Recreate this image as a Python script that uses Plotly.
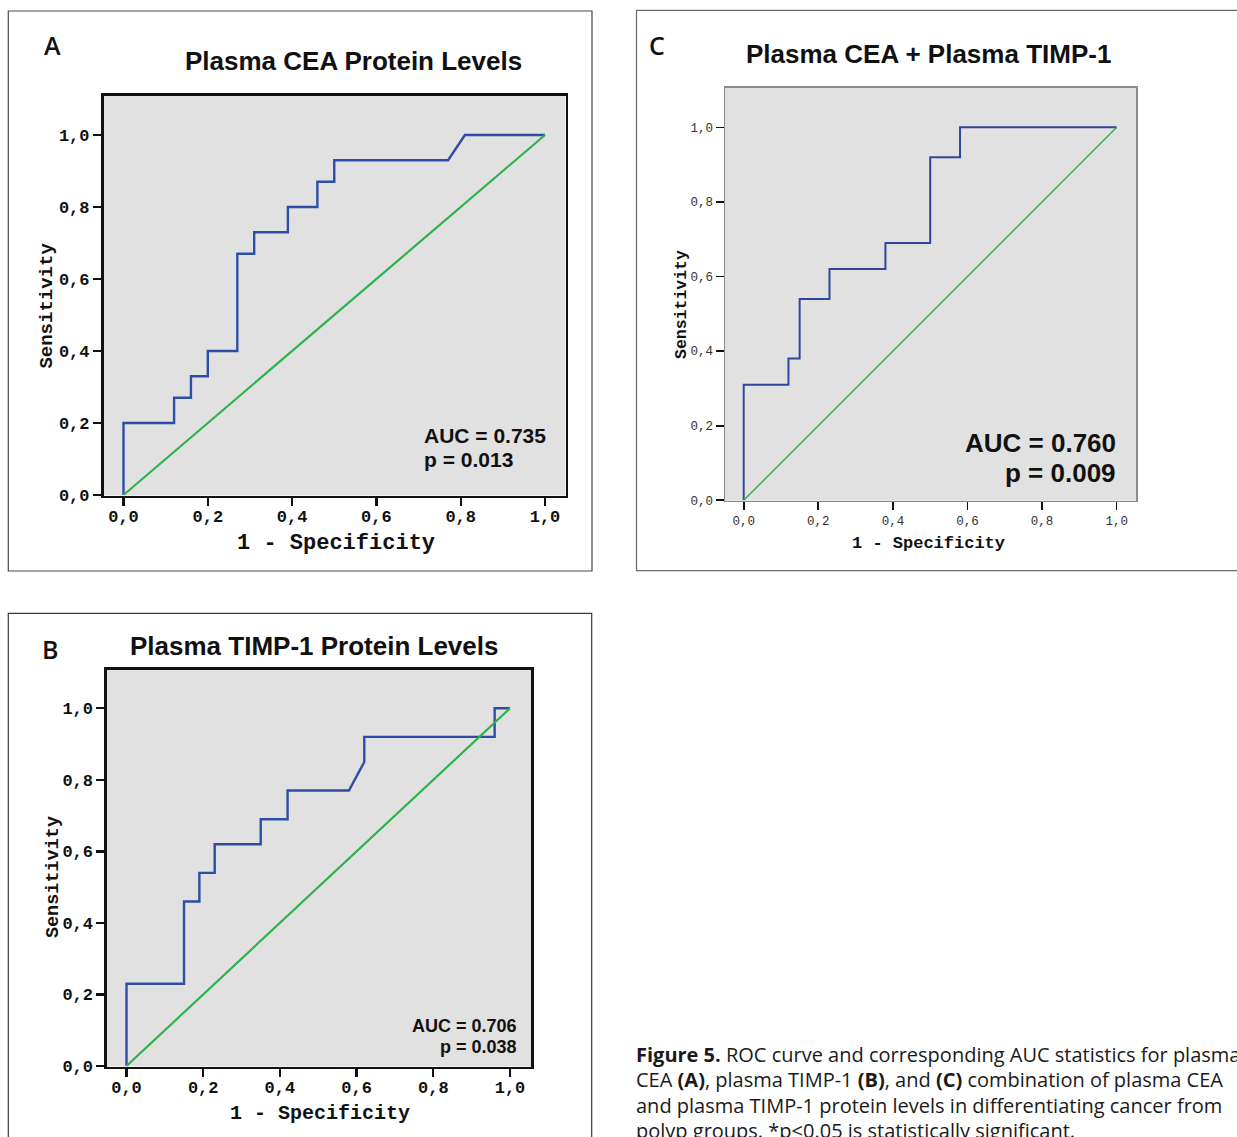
import plotly.graph_objects as go

W, H = 1237, 1137

# ---------------- data ----------------
tick_vals = [0.0, 0.2, 0.4, 0.6, 0.8, 1.0]
tick_text = ["0,0", "0,2", "0,4", "0,6", "0,8", "1,0"]

# Panel A: plasma CEA
cea_fpr = [0.00, 0.00, 0.12, 0.12, 0.16, 0.16, 0.20, 0.20, 0.27, 0.27, 0.31,
           0.31, 0.39, 0.39, 0.46, 0.46, 0.50, 0.50, 0.77, 0.81, 1.00]
cea_tpr = [0.00, 0.20, 0.20, 0.27, 0.27, 0.33, 0.33, 0.40, 0.40, 0.67, 0.67,
           0.73, 0.73, 0.80, 0.80, 0.87, 0.87, 0.93, 0.93, 1.00, 1.00]

# Panel B: plasma TIMP-1
timp_fpr = [0.00, 0.00, 0.15, 0.15, 0.19, 0.19, 0.23, 0.23, 0.35, 0.35, 0.42,
            0.42, 0.58, 0.62, 0.62, 0.96, 0.96, 1.00]
timp_tpr = [0.00, 0.23, 0.23, 0.46, 0.46, 0.54, 0.54, 0.62, 0.62, 0.69, 0.69,
            0.77, 0.77, 0.85, 0.92, 0.92, 1.00, 1.00]

# Panel C: combination
comb_fpr = [0.00, 0.00, 0.12, 0.12, 0.15, 0.15, 0.23, 0.23, 0.38, 0.38, 0.50,
            0.50, 0.58, 0.58, 1.00]
comb_tpr = [0.00, 0.31, 0.31, 0.38, 0.38, 0.54, 0.54, 0.62, 0.62, 0.69, 0.69,
            0.92, 0.92, 1.00, 1.00]

ref_x = [0.0, 1.0]
ref_y = [0.0, 1.0]

panel_letters = ["A", "B", "C"]
panel_titles = ["Plasma CEA Protein Levels", "Plasma TIMP-1 Protein Levels",
                "Plasma CEA + Plasma TIMP-1"]
auc_labels = ["AUC = 0.735", "AUC = 0.706", "AUC = 0.760"]
p_labels = ["p = 0.013", "p = 0.038", "p = 0.009"]
x_title = "1 - Specificity"
y_title = "Sensitivity"

caption_lines = [
    "<b>Figure 5.</b> ROC curve and corresponding AUC statistics for plasma",
    "CEA <b>(A)</b>, plasma TIMP-1 <b>(B)</b>, and <b>(C)</b> combination of plasma CEA",
    "and plasma TIMP-1 protein levels in differentiating cancer from",
    "polyp groups. *p&lt;0.05 is statistically significant.",
]

# ---------------- layout helpers (pixel geometry) ----------------
def fx(p):
    return p / W


def fy(p):
    return 1 - p / H


# left, right, top, bottom of plot area; pixel of x=0, px per unit; pixel of y=0, px per unit
geo = {
    "A": dict(l=103.5, r=565.5, t=95.5, b=495.5, x0=123.5, xu=421.5, y0=495.0, yu=360.0),
    "B": dict(l=107.0, r=531.0, t=669.5, b=1066.5, x0=126.5, xu=383.5, y0=1066.0, yu=357.7),
    "C": dict(l=725.0, r=1136.0, t=87.5, b=500.8, x0=743.7, xu=373.0, y0=500.3, yu=373.0),
}

BLUE_AB = "#2d4ea4"
BLUE_C = "#31469a"
GREEN = "#2eb34b"
BG = "#e1e1e1"

fig = go.Figure()

series = {
    "A": (cea_fpr, cea_tpr),
    "B": (timp_fpr, timp_tpr),
    "C": (comb_fpr, comb_tpr),
}
axis_ids = {"A": ("x", "y"), "B": ("x2", "y2"), "C": ("x3", "y3")}

for key in ["A", "B", "C"]:
    xa, ya = axis_ids[key]
    fpr, tpr = series[key]
    fig.add_trace(go.Scatter(
        x=fpr, y=tpr, mode="lines", xaxis=xa, yaxis=ya,
        line=dict(color=BLUE_C if key == "C" else BLUE_AB,
                  width=2.0 if key == "C" else 2.4),
        showlegend=False, hoverinfo="skip", cliponaxis=False))
    fig.add_trace(go.Scatter(
        x=ref_x, y=ref_y, mode="lines", xaxis=xa, yaxis=ya,
        line=dict(color=GREEN, width=1.4 if key == "C" else 2.2),
        showlegend=False, hoverinfo="skip", cliponaxis=False))

layout_axes = {}
for key, (xa, ya) in axis_ids.items():
    g = geo[key]
    xr = [(g["l"] - g["x0"]) / g["xu"], (g["r"] - g["x0"]) / g["xu"]]
    yr = [(g["y0"] - g["b"]) / g["yu"], (g["y0"] - g["t"]) / g["yu"]]
    if key == "C":
        lc, lw, tw, xtl, ytl = "#8c8c8c", 1.5, 1.6, 8, 8
        tf = dict(family="Liberation Mono", size=12.5, color="#333333")
        xso = 0
    else:
        lc, lw, tw, xtl, ytl = "#111111", 2.6, 2.4, 8, 8
        tf = dict(family="Liberation Mono", size=17, color="#111111", weight="bold")
        xso = -5
    common = dict(showgrid=False, zeroline=False, showline=True, mirror=True,
                  linecolor=lc, linewidth=lw, ticks="outside", tickcolor="#111111",
                  tickwidth=tw, tickvals=tick_vals, ticktext=tick_text,
                  tickfont=tf, fixedrange=True, automargin=False)
    xname = "xaxis" if xa == "x" else "xaxis" + xa[1:]
    yname = "yaxis" if ya == "y" else "yaxis" + ya[1:]
    layout_axes[xname] = dict(domain=[fx(g["l"]), fx(g["r"])], range=xr, anchor=ya,
                              ticklen=xtl, ticklabelstandoff=xso, **common)
    layout_axes[yname] = dict(domain=[fy(g["b"]), fy(g["t"])], range=yr, anchor=xa,
                              ticklen=ytl, **common)

fig.update_layout(
    width=W, height=H, autosize=False,
    margin=dict(l=0, r=0, t=0, b=0, pad=0, autoexpand=False),
    paper_bgcolor="white", plot_bgcolor=BG,
    **layout_axes,
)

# panel frames
frames = [
    dict(x0=8.3, x1=592.0, y0=11.0, y1=571.0, c="#4a4a4a"),
    dict(x0=8.3, x1=591.7, y0=613.3, y1=1150.0, c="#3a3a3a"),
    dict(x0=636.5, x1=1260.0, y0=10.4, y1=570.7, c="#6a6a6a"),
]
for fr in frames:
    fig.add_shape(type="rect", xref="paper", yref="paper",
                  x0=fx(fr["x0"]), x1=fx(fr["x1"]), y0=fy(fr["y1"]), y1=fy(fr["y0"]),
                  line=dict(color=fr["c"], width=1.2), fillcolor="rgba(0,0,0,0)",
                  layer="below")

annots = []


def add_text(text, x, y, size, family, xanchor="center", weight="normal",
             color="#111111", angle=0, yanchor="middle"):
    annots.append(dict(text=text, x=fx(x), y=fy(y), xref="paper", yref="paper",
                       xanchor=xanchor, yanchor=yanchor, showarrow=False,
                       textangle=angle,
                       font=dict(family=family, size=size, color=color, weight=weight)))


SANS = "Liberation Sans, Arial, sans-serif"
MONO = "Liberation Mono, Courier New, monospace"
CAP = "Open Sans, sans-serif"

# panel letters
add_text(panel_letters[0], 52.5, 45.3, 25, CAP, weight=600)
add_text(panel_letters[1], 50.0, 648.6, 25, CAP, weight=600)
add_text(panel_letters[2], 657.0, 45.3, 25, CAP, weight=600)

# titles
add_text(panel_titles[0], 353.7, 61.4, 26, SANS, weight="bold")
add_text(panel_titles[1], 314.0, 645.8, 26, SANS, weight="bold")
add_text(panel_titles[2], 928.6, 53.9, 26, SANS, weight="bold")

# AUC / p statistics
add_text(auc_labels[0], 422.0, 435.7, 21, SANS, xanchor="left", weight="bold")
add_text(p_labels[0], 422.0, 459.7, 21, SANS, xanchor="left", weight="bold")
add_text(auc_labels[1], 519.0, 1025.5, 18, SANS, xanchor="right", weight="bold")
add_text(p_labels[1], 519.0, 1047.1, 18, SANS, xanchor="right", weight="bold")
add_text(auc_labels[2], 1118.0, 442.7, 26, SANS, xanchor="right", weight="bold")
add_text(p_labels[2], 1118.0, 472.7, 26, SANS, xanchor="right", weight="bold")

# axis titles
add_text(y_title, 47.0, 305.6, 19, MONO, weight="bold", angle=-90)
add_text(x_title, 336.0, 543.0, 22, MONO, weight="bold")
add_text(y_title, 53.5, 877.6, 18.5, MONO, weight="bold", angle=-90)
add_text(x_title, 319.5, 1113.5, 20, MONO, weight="bold")
add_text(y_title, 681.0, 305.0, 16.5, MONO, weight="bold", angle=-90)
add_text(x_title, 928.0, 543.0, 17, MONO, weight="bold")

# caption
cap_y = [1054.2, 1079.7, 1105.2, 1130.7]
for line, yy in zip(caption_lines, cap_y):
    add_text(line, 634.0, yy, 20, CAP, xanchor="left", color="#1a1a1a")

fig.update_layout(annotations=annots)

fig.write_html("out.html", config={"displayModeBar": False, "staticPlot": True},
               post_script="document.body.style.margin='0';document.body.style.overflow='hidden';")
